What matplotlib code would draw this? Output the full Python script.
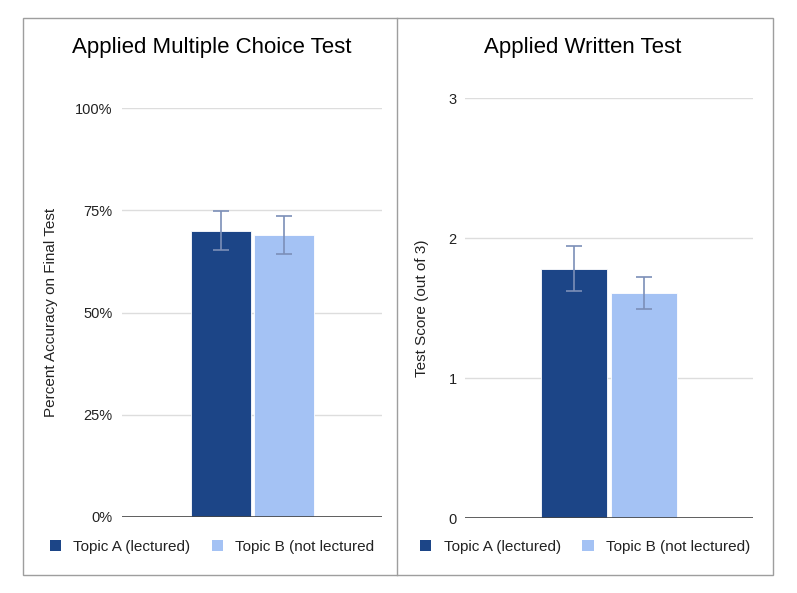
import matplotlib
matplotlib.use("Agg")
import matplotlib.pyplot as plt
from matplotlib.patches import Rectangle
from matplotlib.lines import Line2D
from matplotlib.ticker import FuncFormatter

plt.rcParams['font.family'] = ['Liberation Sans', 'DejaVu Sans']

series = ["Topic A (lectured)", "Topic B (not lectured"]
series_right = ["Topic A (lectured)", "Topic B (not lectured)"]
colors = ["#1c4587", "#a4c2f4"]

mc_values = [0.70, 0.69]
mc_err_low = [0.653, 0.643]
mc_err_high = [0.748, 0.736]

wr_values = [1.78, 1.61]
wr_err_low = [1.62, 1.49]
wr_err_high = [1.94, 1.72]

mc_ticks = [0, 0.25, 0.5, 0.75, 1.0]
wr_ticks = [0, 1, 2, 3]

W, H = 797, 593
fig = plt.figure(figsize=(W/100, H/100), dpi=100)

def px_axes(l, r, top, bottom):
    return fig.add_axes([l/W, 1-bottom/H, (r-l)/W, (bottom-top)/H])

def style(ax, ticks, fmt):
    for s in ax.spines.values():
        s.set_visible(False)
    ax.set_yticks(ticks)
    ax.yaxis.set_major_formatter(fmt)
    ax.tick_params(axis='y', length=0, pad=9, labelsize=10.5, labelcolor="#222222")
    ax.set_xticks([])
    ax.grid(axis='y', color="#dddddd", linewidth=1)
    ax.set_axisbelow(True)

def draw(ax, values, lo, hi, offset):
    xs = [-offset, offset]
    for x, v, c, l, h in zip(xs, values, colors, lo, hi):
        ax.bar(x, v, width=1.0, color=c, edgecolor="white", linewidth=0.6, zorder=2)
        ax.errorbar(x, v, yerr=[[v-l], [h-v]], fmt='none', ecolor="#7c8fb8",
                    elinewidth=1.2, capsize=6, capthick=1.2, zorder=3)

# left panel
ax1 = px_axes(122, 382, 108, 517)
style(ax1, mc_ticks, FuncFormatter(lambda v, p: f"{v*100:.0f}%"))
ax1.tick_params(axis='y', pad=7)
draw(ax1, mc_values, mc_err_low, mc_err_high, 0.525)
ax1.set_xlim(-2.175, 2.158)
ax1.set_ylim(0, 1.0)
ax1.axhline(0, color="#444444", linewidth=1.2, zorder=4)
ax1.set_ylabel("Percent Accuracy on Final Test", fontsize=11, color="#222222", labelpad=12)

# right panel
ax2 = px_axes(465, 753, 98, 518)
style(ax2, wr_ticks, FuncFormatter(lambda v, p: f"{v:.0f}"))
ax2.tick_params(axis='y', pad=6)
draw(ax2, wr_values, wr_err_low, wr_err_high, 0.53)
ax2.set_xlim(-2.18, 2.18)
ax2.set_ylim(0, 3)
ax2.axhline(0, color="#444444", linewidth=1.2, zorder=4)
ax2.set_ylabel("Test Score (out of 3)", fontsize=11, color="#222222", labelpad=14)

# titles
fig.text(212/W, 1-47/H, "Applied Multiple Choice Test", ha='center', va='center', fontsize=16, color="#000000")
fig.text(583/W, 1-47/H, "Applied Written Test", ha='center', va='center', fontsize=16, color="#000000")

# legends
def legend(labels, cx):
    handles = [Rectangle((0, 0), 1, 1, facecolor=c, edgecolor='none') for c in colors]
    fig.legend(handles, labels, loc='center', bbox_to_anchor=(cx/W, 1-547/H), ncol=2,
               frameon=False, fontsize=11, handlelength=0.75, handleheight=0.75,
               handletextpad=0.8, columnspacing=1.4, labelcolor="#222222")

legend(series, 212)
legend(series_right, 585)

# border and divider
fig.add_artist(Rectangle((23/W, 1-575/H), 750/W, 557/H, transform=fig.transFigure,
                         fill=False, edgecolor="#9e9e9e", linewidth=1))
fig.add_artist(Line2D([397/W, 397/W], [1-575/H, 1-18/H], transform=fig.transFigure,
                      color="#9e9e9e", linewidth=1))

fig.savefig("out.png", dpi=100)
